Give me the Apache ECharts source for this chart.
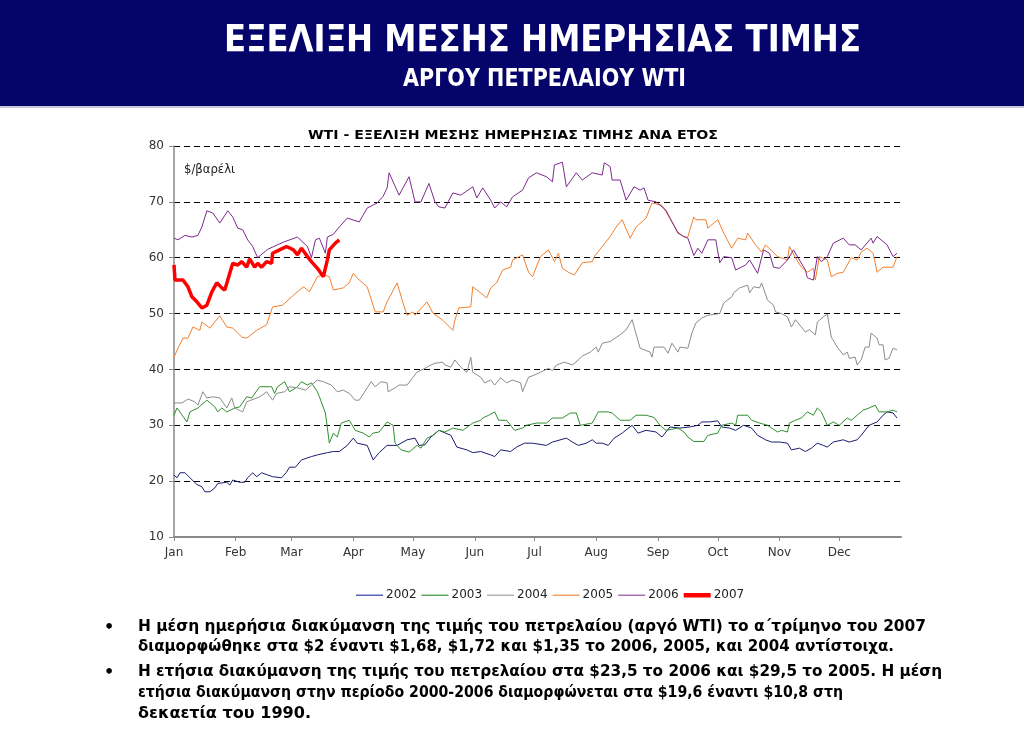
<!DOCTYPE html>
<html><head><meta charset="utf-8">
<script src="https://cdn.jsdelivr.net/npm/echarts@6/dist/echarts.min.js"></script>
<style>html,body{margin:0;padding:0;background:#fff}#c{width:1024px;height:734px}</style>
</head><body><div id="c"></div>
<script>
// ---- DATA (x = day of year, y = $/barrel) ----
const years = ['2002','2003','2004','2005','2006','2007'];
const monthLabels = ['Jan','Feb','Mar','Apr','May','Jun','Jul','Aug','Sep','Oct','Nov','Dec'];
const monthStarts = [0,31,59,90,120,151,181,212,243,273,304,334];
const yTicks = [10,20,30,40,50,60,70,80];

const s2002 = [[0,21.1],[1.5,20.6],[3,21.5],[5.5,21.5],[8,20.6],[11.5,19.4],[14,19],[15.5,18.1],[18,18.1],[20.5,18.8],[22,19.6],[26.5,19.8],[28,19.3],[29.5,20.2],[33,19.8],[35.5,19.8],[37,20.6],[39.5,21.5],[41.5,20.8],[44,21.5],[47,21.1],[49.5,20.8],[54,20.6],[56.5,21.6],[58,22.5],[61,22.5],[64,23.8],[69,24.4],[72,24.7],[77,25.1],[80,25.3],[83,25.3],[87,26.4],[90,27.7],[92,26.8],[97,26.4],[100,23.8],[103,25.1],[107,26.4],[112,26.4],[117,27.4],[121,27.7],[123,26.4],[126,26.5],[129,27.9],[133,29.1],[139,28.2],[142,26.1],[147,25.6],[150,25.1],[154,25.3],[159,24.7],[161,24.4],[164,25.6],[169,25.3],[172,26.1],[176,26.8],[180,26.8],[187,26.4],[190,27],[197,27.7],[200,27],[203,26.4],[207,26.8],[210,27.4],[212,26.8],[215,26.8],[218,26.4],[221,27.7],[225,28.6],[230,30],[233,28.6],[237,29.1],[242,28.8],[245,27.9],[249,29.7],[254,29.5],[259,29.7],[263,30],[265,30.6],[269,30.6],[273,30.8],[275,29.7],[279,29.5],[282,29.1],[286,30],[290,29.5],[293,28.2],[297,27.4],[300,27],[304,27],[308,26.8],[310,25.6],[314,25.9],[317,25.3],[320,25.9],[323,26.8],[326,26.4],[328,26.1],[331,27],[336,27.4],[339,27],[343,27.4],[345,28.2],[349,30],[353,30.6],[356,31.8],[358,32.4],[361,32.2],[363,31.3]];

const s2003 = [[0,31.8],[1.5,33.1],[6.5,30.6],[8,32.4],[12,33.1],[16.5,34.5],[20.5,33.3],[22,32.4],[24,33.1],[26.5,32.4],[30.5,33.1],[33,33.3],[36.5,35.1],[39,34.9],[43,36.9],[49,36.9],[50.5,35.7],[52,36.9],[55.5,37.8],[58,36],[62,36.9],[64,37.8],[67,37.2],[69,37.6],[72,36],[73,35.1],[76,32.2],[78,26.8],[80,28.6],[82,27.9],[84,30.4],[88,30.9],[91,29.1],[95,28.6],[98,27.9],[100,28.6],[103,28.8],[107,30.6],[110,30],[111,26.8],[114,25.6],[118,25.2],[122,26.4],[124,25.9],[127,27.7],[130,28.2],[133,29.1],[136,28.8],[140,29.5],[145,29.1],[150,30.4],[154,30.9],[155,31.3],[158,31.8],[161,32.4],[163,30.9],[167,30.9],[171,29.1],[175,29.5],[177,30],[182,30.4],[187,30.4],[190,31.3],[195,31.3],[199,32.2],[202,32.2],[204,30],[210,30.4],[213,32.4],[218,32.4],[220,32.2],[224,30.9],[229,30.9],[232,31.8],[237,31.8],[241,31.4],[244,30],[247,29.1],[253,29.5],[256,28.8],[258,27.9],[261,27.1],[266,27.1],[268,28.2],[273,28.6],[275,30],[280,30.4],[282,30],[283,31.8],[288,31.8],[290,30.9],[294,30.4],[298,30],[303,28.8],[305,29.1],[308,28.8],[309,30.4],[312,30.9],[315,31.3],[318,32.4],[321,31.8],[323,33.1],[325,32.4],[328,30],[331,30.6],[334,30],[338,31.3],[340,30.9],[343,31.8],[346,32.7],[349,33.1],[352,33.6],[354,32.4],[358,32.4],[361,32.7],[363,32.4]];

const s2004 = [[0,34],[4,34],[7,34.7],[10.5,34.2],[12,33.6],[14.5,36],[16.5,34.9],[19.5,35.1],[23,34.9],[26.5,33.1],[29,34.9],[30.5,33.1],[34.5,32.4],[36.5,34.2],[43,35.1],[46.5,36],[49.5,34.5],[51.5,35.7],[55.5,36],[58,36.9],[62,36.7],[66,36.3],[69,37.2],[72,38.1],[75,37.8],[79,37.2],[82,36],[85,36.3],[88,35.7],[91,34.5],[93,34.5],[97,36.7],[99,37.8],[101,36.9],[104,37.8],[107,37.6],[107.5,36],[111,36.7],[113,37.2],[117,37.2],[120,38.6],[122,39.5],[126,40.2],[129,40.8],[131,41.1],[135,41.3],[136,40.8],[139,40.4],[141,41.7],[144,40.4],[147,39.5],[149,42.2],[150,39.5],[154,38.6],[156,37.6],[159,38.1],[161,37.2],[164,38.5],[167,37.6],[170,38.1],[174,37.6],[175,36],[178,38.6],[181,39],[184,39.5],[188,40.2],[190,39.8],[192,40.8],[196,41.3],[200,40.8],[203,41.7],[205,42.4],[209,43.1],[212,44],[213,43.1],[215,44.7],[219,45],[224,46.2],[227,47.1],[230,48.9],[234,43.8],[239,43.1],[240,42.2],[241,44],[246,44],[248,42.9],[250,44.7],[253,43.1],[254,44],[258,43.8],[260,46.5],[262,48.3],[265,49.2],[268,49.7],[274,50],[276,51.9],[280,53],[281,53.7],[284,54.6],[288,55.1],[289,53.7],[291,54.8],[294,54.6],[295,55.5],[296,55.3],[298,52.4],[301,51.5],[302,50.3],[303,50.6],[305,50],[308,49.4],[310,47.6],[312,48.9],[317,46.7],[319,47.1],[322,46.2],[323,48.5],[326,49.4],[328,49.9],[330,45.8],[333,44],[336,42.6],[338,43.1],[339,42],[342,42.2],[343,40.8],[345,41.7],[347,44],[349,44],[350,46.5],[353,45.6],[354,44.4],[356,44.4],[357,41.7],[359,42],[361,43.8],[363,43.5]];

const s2005 = [[0,42.2],[2,43.8],[4.5,45.6],[7,45.6],[9.5,47.6],[13,47],[14,48.5],[18,47.4],[23,49.6],[26.5,47.6],[29.5,47.4],[34,45.8],[36.5,45.6],[41.5,47],[46.5,48],[49.5,51.2],[54.5,51.5],[60,53.3],[65,54.8],[68,53.9],[72,56.6],[75,57],[78,56.6],[80,54.2],[85,54.6],[88,55.5],[90,57.2],[93,56],[97,54.8],[101,50.3],[105,50.3],[107,52.1],[112,55.5],[115,51.9],[117,49.7],[120,50.3],[121,49.7],[127,52.1],[130,50.1],[135,48.8],[140,47],[141,48.8],[143,51],[149,51.2],[150,54.8],[154,53.7],[157,52.8],[159,54.6],[162,55.5],[165,57.8],[169,58.3],[170,59.6],[175,60.5],[178,57.4],[180,56.6],[184,60.2],[188,61.4],[191,59.3],[193,60.8],[195,58.1],[198,57.4],[201,56.9],[205,59.1],[210,59.3],[211,60.2],[215,62],[219,63.8],[222,65.5],[225,66.8],[229,63.5],[232,65.5],[237,67.1],[240,69.8],[245,69.4],[247,68.2],[253,64.6],[256,63.7],[258,63.7],[259,65],[261,67.3],[262,66.8],[267,66.8],[268,65.3],[273,66.8],[276,64.4],[280,61.7],[283,63.5],[287,63.2],[288,64.4],[292,62.3],[295,61],[297,62.3],[303,60.2],[308,59.6],[309,62],[312,60],[315,58.3],[318,57.4],[321,58.1],[322,56],[324,60.2],[328,59.6],[330,56.6],[333,57.2],[336,57.4],[340,60],[343,59.6],[345,61],[348,61.7],[351,60.8],[353,57.4],[356,58.3],[361,58.3],[363,60.2]];

const s2006 = [[0,63.5],[2,63.2],[5.5,64],[9,63.7],[12,64],[14,65.5],[16.5,68.4],[19.5,68],[23,66.2],[27,68.4],[29.5,67.3],[32,65.3],[34.5,65],[37,63.2],[39.5,62],[42,60],[47,61.5],[55,62.8],[62,63.7],[67,62],[69,60],[71,63.2],[73,63.5],[76,60.8],[77,63.7],[80,64.2],[83,65.5],[87,67.1],[93,66.4],[97,68.9],[102,69.8],[105,71],[107,72.5],[108,75.2],[113,71.2],[118,74.5],[121,70],[124,70],[128,73.3],[131,70],[133,69.1],[136,68.9],[140,71.6],[144,71.2],[150,72.7],[152,70.7],[155,72.5],[159,70.3],[161,68.9],[164,70],[167,69.1],[170,70.9],[175,72.1],[178,74.3],[182,75.2],[187,74.5],[190,73.6],[191,76.6],[195,77.1],[197,72.7],[202,75.2],[205,73.9],[210,75.2],[215,74.8],[216,77],[219,76.3],[220,73.9],[224,73.9],[227,70.3],[231,72.7],[234,72.1],[236,72.5],[238,70.3],[242,70],[247,68.5],[253,64.4],[256,63.8],[258,63.5],[261,60.4],[263,61.7],[265,60.8],[268,63.2],[272,63.2],[274,59.1],[276,60.2],[280,60],[282,57.8],[287,58.7],[289,59.6],[293,57.2],[296,61.4],[299,60.8],[301,58.3],[304,58.1],[308,59.6],[311,61.4],[313,60.2],[317,57.8],[318,56.4],[321,56],[323,60.2],[325,59.3],[328,60.2],[331,62.6],[336,63.5],[339,62.3],[342,62.3],[345,61.4],[350,63.5],[351,62.6],[353,63.8],[358,62.3],[361,60.2],[363,60.8]];

const s2007 = [[0,58.7],[0.5,56],[4.5,56],[7,54.8],[9,53],[11.5,52.1],[14,51],[16.5,51.5],[19,53.9],[21.5,55.5],[24,54.6],[25.5,54.2],[28,57.2],[29.5,59],[32,58.7],[34,59.3],[36.5,58.3],[38,59.8],[40.5,58.3],[42,59],[44,58.3],[46.5,59.3],[49,59],[49.5,60.8],[53,61.4],[56.5,62],[60,61.4],[62,60.5],[64,61.7],[67,60.2],[69,59.3],[72,58.1],[75,56.6],[76,56.8],[77,59.6],[78,61.4],[81,62.6],[83,63.2]];

const seriesData = [s2002, s2003, s2004, s2005, s2006, s2007];
const seriesColors = ['#1b1b72','#2f8f2f','#8c8c8c','#f2802e','#7e2a8e','#ff0000'];
const legendColors = ['#5a64b4','#5fa85f','#b4b4b4','#f5a064','#a870b8','#ff0000'];
const seriesWidths = [1,1,1,1,1,3.5];

const headerLine1 = 'ΕΞΕΛΙΞΗ ΜΕΣΗΣ ΗΜΕΡΗΣΙΑΣ ΤΙΜΗΣ';
const headerLine2 = 'ΑΡΓΟΥ ΠΕΤΡΕΛΑΙΟΥ WTI';
const chartTitle = 'WTI - ΕΞΕΛΙΞΗ ΜΕΣΗΣ ΗΜΕΡΗΣΙΑΣ ΤΙΜΗΣ ΑΝΑ ΕΤΟΣ';
const unitLabel = '$/βαρέλι';
const bulletLines = [
  'Η μέση ημερήσια διακύμανση της τιμής του πετρελαίου (αργό WTI) το α΄τρίμηνο του 2007',
  'διαμορφώθηκε στα $2 έναντι $1,68, $1,72 και $1,35 το 2006, 2005, και 2004 αντίστοιχα.',
  'Η ετήσια διακύμανση της τιμής του πετρελαίου στα $23,5 το 2006 και $29,5 το 2005. Η μέση',
  'ετήσια διακύμανση στην περίοδο 2000-2006 διαμορφώνεται στα $19,6 έναντι $10,8 στη',
  'δεκαετία του 1990.'
];

// ---- layout helpers ----
const ctx = document.createElement('canvas').getContext('2d');
function fitScale(text, font, target){ ctx.font = font; return target / ctx.measureText(text).width; }

const FH = '"DejaVu Sans Condensed","DejaVu Sans",sans-serif';
const FB = '"DejaVu Sans",Verdana,sans-serif';

const graphics = [];
graphics.push({type:'rect', shape:{x:0,y:0,width:1024,height:106}, style:{fill:'#04046a'}, z:0});
graphics.push({type:'rect', shape:{x:0,y:106,width:1024,height:2}, style:{fill:'#c8c8d8'}, z:0});
function addText(text, x, y, font, size, weight, color, targetW, align){
  const f = weight + ' ' + size + 'px ' + font;
  const sx = targetW ? fitScale(text, f, targetW) : 1;
  graphics.push({type:'text', x:x, y:y, scaleX:sx, originX:0, originY:0, z:10,
    style:{text:text, font:f, fill:color, textAlign:align||'left', textVerticalAlign:'middle'}});
}
addText(headerLine1, 224, 41, FH, 37, 'bold', '#ffffff', 637);
addText(headerLine2, 403, 79.5, FH, 25, 'bold', '#ffffff', 283);
addText(chartTitle, 308, 136, FB, 12, 'bold', '#000000', 410);
addText(unitLabel, 184, 170, FB, 12, 'normal', '#222222', 51);
const bulletY = [627, 647, 672, 693, 714];
const bulletW = [788, 756, 804, 705, 173];
bulletLines.forEach((t,i)=>addText(t, 138, bulletY[i], FH, 16, 'bold', '#000000', bulletW[i]));
addText('•', 104, 628, FB, 16, 'bold', '#000000');
addText('•', 104, 673, FB, 16, 'bold', '#000000');

const thinIcon = 'path://M0,0M27,12M0,5.5L27,5.5L27,7L0,7Z';
const thickIcon = 'path://M0,0M27,12M0,4L27,4L27,8.5L0,8.5Z';

const chart = echarts.init(document.getElementById('c'), null, {renderer:'canvas'});
chart.setOption({
  animation:false,
  backgroundColor:'#ffffff',
  grid:{left:174, top:146, width:727, height:391},
  legend:{
    data: years.map((y,i)=>({name:y, icon: i===5 ? thickIcon : thinIcon, itemStyle:{color:legendColors[i]}})),
    left:351, top:584, itemWidth:27, itemHeight:12, itemGap:5, symbolKeepAspect:false,
    textStyle:{fontFamily:FB, fontSize:12, color:'#222', padding:[0,0,0,-2]}
  },
  xAxis:{
    type:'value', min:0, max:365,
    axisLine:{lineStyle:{color:'#8a8a8a', width:2}},
    axisTick:{show:true, customValues:monthStarts, length:4, lineStyle:{color:'#8a8a8a'}},
    axisLabel:{customValues:monthStarts, margin:10, fontFamily:FB, fontSize:12, color:'#333',
      formatter:(v)=>monthLabels[monthStarts.indexOf(v)] || ''},
    splitLine:{show:false}
  },
  yAxis:{
    type:'value', min:10, max:80, interval:10,
    axisLine:{show:true, lineStyle:{color:'#8a8a8a', width:1.5}},
    axisTick:{show:true, length:5, lineStyle:{color:'#8a8a8a'}},
    axisLabel:{margin:10, fontFamily:FB, fontSize:12, color:'#333'},
    splitLine:{show:true, lineStyle:{color:'#000', type:[6,4], width:1}}
  },
  series: years.map((y,i)=>({
    name:y, type:'line', data:seriesData[i], symbol:'none', showSymbol:false,
    color:seriesColors[i], lineStyle:{color:seriesColors[i], width:seriesWidths[i]},
    z: i===5 ? 5 : 2, silent:true
  })),
  graphic: graphics
});
</script></body></html>
